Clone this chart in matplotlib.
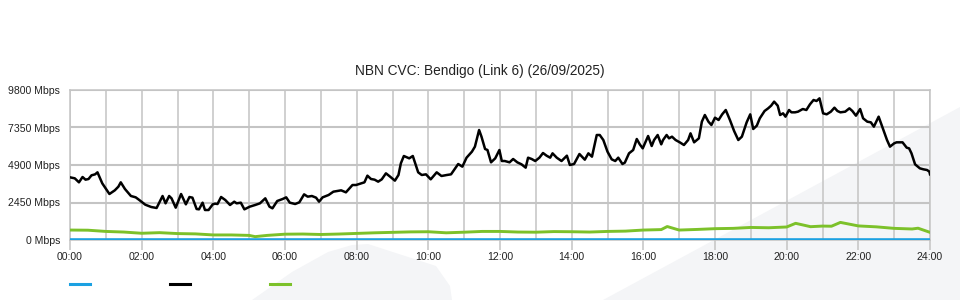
import matplotlib
matplotlib.use("Agg")
import matplotlib.pyplot as plt
from matplotlib.lines import Line2D
from matplotlib.patches import Polygon

# Chart data (minutes after midnight, Mbps)
title = "NBN CVC: Bendigo (Link 6) (26/09/2025)"

black_t = [0, 8, 15, 21, 26, 31, 36, 42, 46, 54, 66, 75, 81, 85, 92, 102, 110, 116, 126, 136,
           145, 155, 160, 166, 170, 177, 186, 194, 200, 205, 212, 216, 222, 226, 232, 239, 243,
           247, 253, 260, 268, 275, 279, 286, 292, 301, 310, 318, 327, 334, 339, 347, 356, 362,
           368, 377, 384, 392, 398, 405, 412, 417, 423, 433, 441, 448, 454, 462, 473, 479, 486,
           493, 498, 504, 510, 516, 522, 529, 536, 544, 550, 554, 559, 568, 574, 583, 589, 596,
           604, 614, 622, 631, 638, 643, 650, 657, 664, 673, 678, 685, 689, 695, 699, 705, 712,
           719, 723, 728, 736, 742, 749, 756, 763, 767, 773, 779, 786, 792, 798, 804, 808, 815,
           823, 832, 837, 844, 853, 862, 868, 874, 882, 887, 893, 900, 907, 913, 918, 925, 929,
           936, 943, 949, 954, 959, 968, 974, 978, 984, 990, 993, 999, 1003, 1008, 1014, 1021,
           1028, 1035, 1039, 1045, 1053, 1058, 1063, 1069, 1074, 1080, 1086, 1092, 1098, 1105,
           1112, 1119, 1125, 1133, 1139, 1144, 1150, 1155, 1163, 1169, 1174, 1179, 1185, 1189,
           1194, 1198, 1204, 1208, 1214, 1219, 1227, 1233, 1239, 1245, 1250, 1255, 1261, 1267,
           1274, 1280, 1285, 1290, 1298, 1305, 1310, 1316, 1323, 1328, 1335, 1341, 1346, 1354,
           1360, 1368, 1373, 1380, 1384, 1394, 1401, 1405, 1409, 1415, 1423, 1429, 1435, 1439, 1440]
black_v = [4095, 4029, 3768, 4116, 3942, 3985, 4225, 4290, 4421, 3703, 3005, 3245, 3484, 3768, 3332,
           2875, 2788, 2613, 2308, 2156, 2091, 2875, 2395, 2875, 2722, 2112, 3005, 2330, 2809, 2766,
           2025, 2003, 2439, 1960, 1960, 2330, 2373, 2352, 2809, 2613, 2287, 2504, 2395, 2439, 2003,
           2178, 2287, 2395, 2722, 2178, 2069, 2548, 2678, 2787, 2439, 2352, 2461, 2983, 2831, 2875,
           2766, 2504, 2787, 2940, 3157, 3201, 3245, 3114, 3593, 3593, 3680, 3768, 4203, 3985, 3942,
           3811, 3963, 4356, 4138, 3876, 4247, 5009, 5488, 5335, 5488, 4421, 4247, 4290, 3963, 4421,
           4181, 4247, 4290, 4573, 4965, 4791, 5379, 5771, 6098, 7187, 6751, 5945, 5880, 5074, 5335,
           5880, 5161, 5161, 5074, 5292, 5074, 4944, 4726, 5379, 5292, 5161, 5379, 5684, 5509, 5379,
           5662, 5379, 5161, 5509, 4900, 4965, 5618, 5248, 5662, 5444, 6860, 6860, 6533, 5771, 5270,
           5161, 5379, 4965, 5053, 5662, 5880, 6598, 6250, 5988, 6795, 6141, 6533, 6860, 6250, 6533,
           6860, 6642, 6751, 6533, 6381, 6207, 6533, 6969, 6381, 6642, 7731, 8167, 7731, 7513, 7992,
           7840, 8210, 8493, 7840, 7121, 6533, 6751, 7687, 8210, 7252, 7469, 7949, 8428, 8602, 8776,
           9039, 8776, 8167, 8276, 8058, 8493, 8341, 8341, 8384, 8558, 8493, 8864, 9147, 9082, 9255,
           8276, 8210, 8384, 8646, 8428, 8341, 8384, 8602, 8428, 8123, 8558, 7949, 7731, 7687, 7404,
           8058, 7404, 6533, 6098, 6316, 6381, 6381, 6032, 5988, 5662, 4944, 4682, 4617, 4573, 4465,
           4290]

green_t = [0, 30, 60, 90, 120, 150, 180, 210, 240, 270, 300, 310, 330, 360, 390, 420, 450, 480, 510,
           540, 570, 600, 630, 660, 690, 720, 750, 780, 810, 840, 870, 900, 930, 960, 990, 1000,
           1020, 1050, 1080, 1110, 1140, 1170, 1200, 1215, 1240, 1260, 1275, 1290, 1320, 1350,
           1380, 1410, 1420, 1440]
green_v = [650, 640, 560, 520, 440, 480, 420, 400, 330, 330, 300, 220, 300, 380, 390, 360, 390, 430,
           470, 500, 530, 540, 470, 510, 560, 560, 520, 510, 550, 540, 520, 560, 580, 650, 680, 880,
           650, 690, 740, 760, 820, 800, 850, 1090, 870, 910, 900, 1150, 920, 860, 760, 720, 770, 500]

blue_t = [0, 1440]
blue_v = [0, 0]

y_ticks = [0, 2450, 4900, 7350, 9800]
x_ticks = list(range(0, 1441, 120))

plt.rcParams['font.family'] = ['Liberation Sans', 'DejaVu Sans']
fig = plt.figure(figsize=(9.6, 3.0), dpi=100)

# light watermark shapes in the background
W, H = 960, 300
def fpoly(pts):
    return Polygon([(x / W, 1 - y / H) for x, y in pts], closed=True,
                   transform=fig.transFigure, facecolor='#f4f5f7', edgecolor='none', zorder=-10)
fig.patches.append(fpoly([(252, 300), (292, 272), (328, 252), (352, 245), (368, 244),
                          (436, 266), (450, 286), (452, 300)]))
fig.patches.append(fpoly([(603, 300), (960, 107), (960, 300)]))

ax = fig.add_axes([70 / W, 1 - 240 / H, 860 / W, 150 / H])
ax.set_facecolor('none')
ax.set_zorder(1)

ax.plot(blue_t, blue_v, color='#1ba1e2', lw=2.6, zorder=4, solid_capstyle='butt')
ax.plot(green_t, green_v, color='#7cc12a', lw=2.1, zorder=3)
ax.plot(black_t, black_v, color='black', lw=1.8, zorder=3)

ax.set_xlim(0, 1440)
ax.set_ylim(0, 9800)
ax.set_yticks(y_ticks)
ax.set_yticklabels([f"{v} Mbps" for v in y_ticks])
ax.set_xticks(x_ticks)
ax.set_xticklabels([f"{m // 60:02d}:00" for m in x_ticks])
ax.set_xticks(range(60, 1440, 120), minor=True)

ax.grid(True, which='both', axis='x', color='#c4c4c4', lw=1.1)
ax.grid(True, which='major', axis='y', color='#c4c4c4', lw=1.5)
ax.tick_params(axis='y', length=0, pad=7, labelsize=7.6, labelcolor='#222222')
ax.tick_params(axis='x', which='major', length=7, width=1.1, color='#c4c4c4', pad=2,
               labelsize=7.6, labelcolor='#222222')
ax.tick_params(axis='x', which='minor', length=0)
for s in ax.spines.values():
    s.set_color('#c4c4c4')
    s.set_linewidth(1.1)

fig.text(0.5, 1 - 71 / H, title, ha='center', va='center', fontsize=9.8, color='#222222')

handles = [Line2D([], [], color='#1ba1e2', lw=2.2),
           Line2D([], [], color='black', lw=2.2),
           Line2D([], [], color='#7cc12a', lw=2.2)]
fig.legend(handles, ['', '', ''], ncol=3, frameon=False, loc='center left',
           bbox_to_anchor=(70 / W, 1 - 285 / H), borderpad=0, borderaxespad=0,
           handlelength=1.44, handletextpad=0, columnspacing=5.76, fontsize=10)

fig.savefig("out.png", dpi=100)
